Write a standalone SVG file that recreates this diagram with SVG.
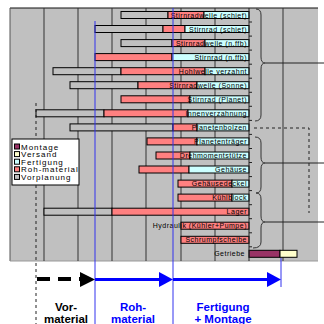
<svg xmlns="http://www.w3.org/2000/svg" width="324" height="324" viewBox="0 0 324 324">
<style>
  .bg{fill:#C0C0C0;stroke:none}
  .grid{stroke:#333;stroke-width:1;fill:none}
  .bar{stroke:#000;stroke-width:1}
  .vp{fill:#C0C0C0}
  .rm{fill:#FF8080}
  .fe{fill:#CCFFFF}
  .ve{fill:#FFFFCC}
  .mo{fill:#993366}
  .lbl{font-family:"Liberation Sans",Arial,sans-serif;font-size:7px;letter-spacing:0.5px;fill:#000;text-anchor:end}
  .leg{font-family:"Liberation Sans",Arial,sans-serif;font-size:8px;letter-spacing:1px;fill:#000}
  .brace{stroke:#333;stroke-width:1;fill:none}
  .dash{stroke:#222;stroke-width:1;fill:none;stroke-dasharray:3 3}
  .phase{stroke:#3333EE;stroke-width:1;fill:none}
  .big{font-family:"Liberation Sans",Arial,sans-serif;font-size:11.5px;font-weight:bold;text-anchor:middle}
</style>

<!-- plot area -->
<rect class="bg" x="10" y="8" width="308" height="253"/>
<line x1="10" y1="8" x2="318" y2="8" stroke="#111" stroke-width="1.2"/>
<line x1="10" y1="8" x2="10" y2="261" stroke="#555"/>
<line x1="10" y1="261" x2="318" y2="261" stroke="#999"/>
<g id="grid">
  <line class="grid" x1="44" y1="8" x2="44" y2="261"/>
  <line class="grid" x1="78" y1="8" x2="78" y2="261"/>
  <line class="grid" x1="112" y1="8" x2="112" y2="261"/>
  <line class="grid" x1="146" y1="8" x2="146" y2="261"/>
  <line class="grid" x1="181" y1="8" x2="181" y2="261"/>
  <line class="grid" x1="215" y1="8" x2="215" y2="261"/>
  <line class="grid" x1="283" y1="8" x2="283" y2="261"/>
</g>

<!-- rows -->
<g id="r1"><rect class="bar vp" x="121" y="11.5" width="47" height="7"/><rect class="bar rm" x="168" y="11.5" width="36" height="7"/><rect class="bar fe" x="204" y="11.5" width="45" height="7"/><text class="lbl" x="247" y="17.5">Stirnradwelle (schief)</text></g>
<g id="r2"><rect class="bar vp" x="95" y="25.5" width="68" height="7"/><rect class="bar rm" x="163" y="25.5" width="22" height="7"/><rect class="bar fe" x="185" y="25.5" width="64" height="7"/><text class="lbl" x="247" y="31.5">Stirnrad (schief)</text></g>
<g id="r3"><rect class="bar vp" x="121" y="39.6" width="51" height="7"/><rect class="bar rm" x="172" y="39.6" width="33" height="7"/><rect class="bar fe" x="205" y="39.6" width="44" height="7"/><text class="lbl" x="247" y="45.6">Stirnradwelle (n.ffb)</text></g>
<g id="r4"><rect class="bar rm" x="95" y="53.6" width="77" height="7"/><rect class="bar fe" x="172" y="53.6" width="77" height="7"/><text class="lbl" x="247" y="59.6">Stirnrad (n.ffb)</text></g>
<g id="r5"><rect class="bar vp" x="53" y="67.7" width="68" height="7"/><rect class="bar rm" x="121" y="67.7" width="84" height="7"/><rect class="bar fe" x="205" y="67.7" width="44" height="7"/><text class="lbl" x="247" y="73.7">Hohlwelle verzahnt</text></g>
<g id="r6"><rect class="bar vp" x="70" y="81.7" width="68" height="7"/><rect class="bar rm" x="138" y="81.7" width="59" height="7"/><rect class="bar fe" x="197" y="81.7" width="52" height="7"/><text class="lbl" x="247" y="87.7">Stirnradwelle (Sonne)</text></g>
<g id="r7"><rect class="bar rm" x="121" y="95.8" width="69" height="7"/><rect class="bar fe" x="190" y="95.8" width="59" height="7"/><text class="lbl" x="247" y="101.8">Stirnrad (Planet)</text></g>
<g id="r8"><rect class="bar vp" x="36" y="109.8" width="68" height="7"/><rect class="bar rm" x="104" y="109.8" width="84" height="7"/><rect class="bar fe" x="188" y="109.8" width="61" height="7"/><text class="lbl" x="247" y="115.8">Innenverzahnung</text></g>
<g id="r9"><rect class="bar vp" x="70" y="123.9" width="103" height="7"/><rect class="bar rm" x="173" y="123.9" width="24" height="7"/><rect class="bar fe" x="197" y="123.9" width="52" height="7"/><text class="lbl" x="247" y="129.9">Planetenbolzen</text></g>
<g id="r10"><rect class="bar rm" x="147" y="137.9" width="50" height="7"/><rect class="bar fe" x="197" y="137.9" width="52" height="7"/><text class="lbl" x="247" y="143.9">Planetenträger</text></g>
<g id="r11"><rect class="bar rm" x="156" y="152" width="34" height="7"/><rect class="bar fe" x="190" y="152" width="59" height="7"/><text class="lbl" x="247" y="158">Drehmomentstütze</text></g>
<g id="r12"><rect class="bar rm" x="139" y="166" width="50" height="7"/><rect class="bar fe" x="189" y="166" width="60" height="7"/><text class="lbl" x="247" y="172">Gehäuse</text></g>
<g id="r13"><rect class="bar rm" x="178" y="180.1" width="54" height="7"/><rect class="bar fe" x="232" y="180.1" width="17" height="7"/><text class="lbl" x="247" y="186.1">Gehäusedeckel</text></g>
<g id="r14"><rect class="bar rm" x="178" y="194.1" width="54" height="7"/><rect class="bar fe" x="232" y="194.1" width="17" height="7"/><text class="lbl" x="247" y="200.1">Kühlblock</text></g>
<g id="r15"><rect class="bar vp" x="44" y="208.2" width="68" height="7"/><rect class="bar rm" x="112" y="208.2" width="137" height="7"/><text class="lbl" x="247" y="214.2">Lager</text></g>
<g id="r16"><rect class="bar rm" x="181" y="222.2" width="68" height="7"/><text class="lbl" x="247" y="228.2">Hydraulik (Kühler+Pumpe)</text></g>
<g id="r17"><rect class="bar rm" x="181" y="236.3" width="68" height="7"/><text class="lbl" x="247" y="242.3">Schrumpfscheibe</text></g>
<g id="r18"><rect class="bar mo" x="249" y="250.3" width="31" height="7"/><rect class="bar ve" x="280" y="250.3" width="17" height="7"/><text class="lbl" x="245" y="256.3">Getriebe</text></g>

<!-- category axis with ticks -->
<g id="axis" stroke="#222" stroke-width="1">
  <line x1="249" y1="8" x2="249" y2="261"/>
  <path d="M249 22h3M249 36.1h3M249 50.1h3M249 64.2h3M249 78.2h3M249 92.3h3M249 106.3h3M249 120.4h3M249 134.4h3M249 148.5h3M249 162.5h3M249 176.6h3M249 190.6h3M249 204.7h3M249 218.7h3M249 232.8h3M249 246.8h3"/>
</g>

<!-- legend -->
<g id="legend">
  <rect x="12" y="139" width="67" height="46" fill="#fff" stroke="#000"/>
  <rect x="14.5" y="144" width="5" height="5" class="bar mo"/>
  <rect x="14.5" y="151.6" width="5" height="5" class="bar ve"/>
  <rect x="14.5" y="159.2" width="5" height="5" class="bar fe"/>
  <rect x="14.5" y="166.8" width="5" height="5" class="bar rm"/>
  <rect x="14.5" y="174.4" width="5" height="5" class="bar vp"/>
  <text class="leg" x="21" y="149.5">Montage</text>
  <text class="leg" x="21" y="157.1">Versand</text>
  <text class="leg" x="21" y="164.7">Fertigung</text>
  <text class="leg" x="21" y="172.3">Roh-material</text>
  <text class="leg" x="21" y="179.9">Vorplanung</text>
</g>

<!-- connectors: braces, guide lines, phase arrows -->
<g id="connectors">
  <path class="brace" d="M256 9Q261 9 261 15V57Q261 63 265 63Q261 63 261 69V115Q261 121 255 121"/>
  <path class="brace" d="M255 137Q261 137 261 143V157Q261 163 265 163Q261 163 261 169V187Q261 193 256 193Q261 193 261 199V216Q261 222 265 222Q261 222 261 228V242Q261 248 253 248"/>
  <line x1="265" y1="63" x2="324" y2="63" stroke="#222"/>
  <line x1="265" y1="163" x2="324" y2="163" stroke="#222"/>
  <line x1="265" y1="222" x2="324" y2="222" stroke="#222"/>
  <path class="dash" d="M254 128H309V213"/>
  <line class="dash" x1="36" y1="103" x2="36" y2="139"/>
  <line class="dash" x1="36" y1="185" x2="36" y2="324"/>

  <line class="phase" x1="95" y1="21" x2="95" y2="324"/>
  <line class="phase" x1="173" y1="8" x2="173" y2="324"/>
  <line class="phase" x1="281" y1="258" x2="281" y2="287"/>

  <path d="M37 279H80" stroke="#000" stroke-width="4" stroke-dasharray="13 8"/>
  <polygon points="80,272 95,279.5 80,287" fill="#000"/>
  <line x1="95" y1="279.5" x2="160" y2="279.5" stroke="#0000FF" stroke-width="3"/>
  <polygon points="159,272 173,279.5 159,287" fill="#0000FF"/>
  <line x1="173" y1="279.5" x2="268" y2="279.5" stroke="#0000FF" stroke-width="3"/>
  <polygon points="267,272 281,279.5 267,287" fill="#0000FF"/>
</g>

<!-- phase names -->
<g id="phases">
  <text class="big" x="66" y="310.5" fill="#000">Vor-</text>
  <text class="big" x="66" y="322.5" fill="#000">material</text>
  <text class="big" x="133" y="310.5" fill="#0000FF">Roh-</text>
  <text class="big" x="133" y="322.5" fill="#0000FF">material</text>
  <text class="big" x="223" y="310.5" fill="#0000FF">Fertigung</text>
  <text class="big" x="223" y="322.5" fill="#0000FF">+ Montage</text>
</g>
</svg>
